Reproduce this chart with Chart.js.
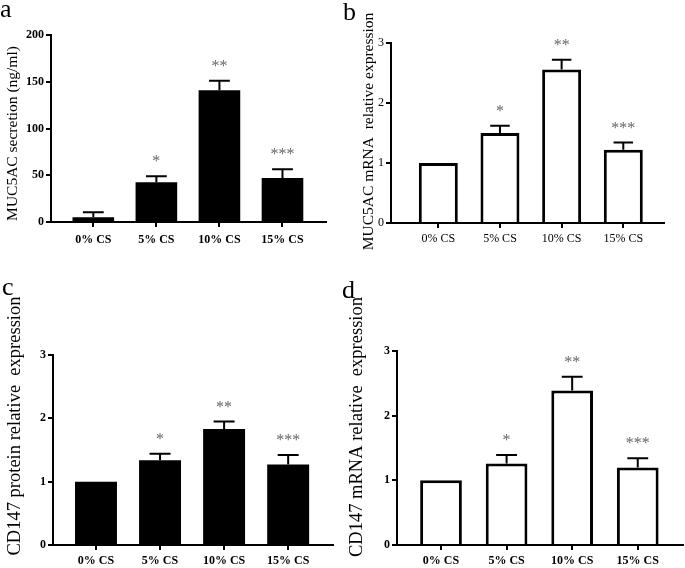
<!DOCTYPE html>
<html>
<head>
<meta charset="utf-8">
<script src="https://cdn.jsdelivr.net/npm/chart.js@4.4.0/dist/chart.umd.min.js"></script>
<style>
  body { margin: 0; background: #fff; }
  #wrap { position: relative; width: 685px; height: 568px; }
  canvas { position: absolute; }
</style>
</head>
<body>
<div id="wrap">
  <canvas id="chartA" width="340" height="280" style="left:0;top:0"></canvas>
  <canvas id="chartB" width="345" height="280" style="left:340px;top:0"></canvas>
  <canvas id="chartC" width="340" height="288" style="left:0;top:280px"></canvas>
  <canvas id="chartD" width="345" height="288" style="left:340px;top:280px"></canvas>
</div>
<script>
const categories = ['0% CS', '5% CS', '10% CS', '15% CS'];
const stars = ['', '*', '**', '***'];

// a - MUC5AC secretion (ng/ml)
const secretionMean = [5, 42.5, 141, 47];
const secretionErr = [5.5, 6.5, 10, 9.5];
// b - MUC5AC mRNA
const mucMrnaMean = [1, 1.5, 2.56, 1.22];
const mucMrnaErr = [0, 0.12, 0.16, 0.12];
// c - CD147 protein
const cdProteinMean = [1, 1.34, 1.83, 1.27];
const cdProteinErr = [0, 0.1, 0.12, 0.15];
// d - CD147 mRNA
const cdMrnaMean = [1, 1.26, 2.39, 1.2];
const cdMrnaErr = [0, 0.13, 0.21, 0.14];

const ticksSecretion = [0, 50, 100, 150, 200];
const ticksRelative = [0, 1, 2, 3];

const serif = '"Liberation Serif", "Times New Roman", serif';

// error bars (upper half), stars, panel letter, y title
const extras = {
    id: 'extras',
    afterDatasetsDraw(chart, args, o) {
        const ctx = chart.ctx;
        const y = chart.scales.y;
        const bars = chart.getDatasetMeta(0).data;
        ctx.save();
        ctx.strokeStyle = '#000';
        ctx.lineWidth = 2;
        bars.forEach((bar, i) => {
            const top = y.getPixelForValue(o.mean[i] + o.err[i]);
            if (o.err[i] > 0) {
                const base = y.getPixelForValue(o.mean[i]);
                const half = bar.width / 4;
                ctx.beginPath();
                ctx.moveTo(bar.x, base);
                ctx.lineTo(bar.x, top);
                ctx.moveTo(bar.x - half, top);
                ctx.lineTo(bar.x + half, top);
                ctx.stroke();
            }
            if (o.stars[i]) {
                ctx.fillStyle = '#666';
                ctx.font = '16px ' + serif;
                ctx.textAlign = 'center';
                ctx.textBaseline = 'alphabetic';
                ctx.fillText(o.stars[i], bar.x, top - 10);
            }
        });
        ctx.fillStyle = '#000';
        ctx.font = '26px ' + serif;
        ctx.textAlign = 'left';
        ctx.textBaseline = 'alphabetic';
        ctx.fillText(o.letter, o.letterX, o.letterY);

        ctx.translate(o.titleX, o.titleY);
        ctx.rotate(-Math.PI / 2);
        ctx.textAlign = 'center';
        ctx.textBaseline = 'middle';
        ctx.font = o.titleSize + 'px ' + serif;
        ctx.fillText(o.title, 0, 0);
        ctx.restore();
    }
};

function makePanel(id, cfg) {
    const tickFont = { family: serif, size: 12, weight: cfg.bold ? 'bold' : 'normal' };
    new Chart(document.getElementById(id), {
        type: 'bar',
        data: {
            datasets: [{
                data: categories.map((c, i) => ({ x: i, y: cfg.mean[i] })),
                backgroundColor: cfg.fill,
                borderColor: '#000',
                borderWidth: cfg.border,
                barPercentage: cfg.barPct,
                categoryPercentage: 1
            }]
        },
        options: {
            responsive: false,
            animation: false,
            layout: { padding: { left: 0, top: cfg.top, right: cfg.right, bottom: 0 } },
            plugins: {
                legend: { display: false },
                tooltip: { enabled: false },
                extras: {
                    mean: cfg.mean, err: cfg.err, stars: stars,
                    letter: cfg.letter, letterX: cfg.letterX, letterY: cfg.letterY,
                    title: cfg.title, titleX: cfg.titleX, titleY: cfg.titleY, titleSize: cfg.titleSize
                }
            },
            scales: {
                x: {
                    type: 'linear',
                    offset: false,
                    min: cfg.xmin,
                    max: cfg.xmax,
                    afterBuildTicks: s => { s.ticks = categories.map((c, i) => ({ value: i })); },
                    afterFit: s => { s.height = cfg.xh; },
                    ticks: { callback: v => categories[v], font: tickFont, color: '#000', padding: cfg.xpad, maxRotation: 0, autoSkip: false },
                    grid: { offset: false, drawOnChartArea: false, tickLength: 5, color: '#000', lineWidth: 2, z: 1 },
                    border: { color: '#000', width: 2, z: 1 }
                },
                y: {
                    min: 0,
                    max: cfg.yticks[cfg.yticks.length - 1],
                    afterBuildTicks: s => { s.ticks = cfg.yticks.map(v => ({ value: v })); },
                    afterFit: s => { s.width = cfg.left; },
                    ticks: { font: tickFont, color: '#000', padding: 2 },
                    grid: { drawOnChartArea: false, tickLength: 5, color: '#000', lineWidth: 2, z: 1 },
                    border: { color: '#000', width: 2, z: 1 }
                }
            }
        },
        plugins: [extras]
    });
}

makePanel('chartA', {
    mean: secretionMean, err: secretionErr, yticks: ticksSecretion,
    fill: '#000', border: 0, bold: true, barPct: 0.66, xpad: 6,
    left: 51, top: 35, right: 14, xh: 58, xmin: -0.671, xmax: 3.69,
    letter: 'a', letterX: 0, letterY: 17,
    title: 'MUC5AC secretion (ng/ml)', titleX: 13, titleY: 133.5, titleSize: 15.5
});
makePanel('chartB', {
    mean: mucMrnaMean, err: mucMrnaErr, yticks: ticksRelative,
    fill: '#fff', border: 3, bold: false, barPct: 0.632, xpad: 4,
    left: 51, top: 43, right: 21, xh: 57, xmin: -0.767, xmax: 3.66,
    letter: 'b', letterX: 3, letterY: 20,
    title: 'MUC5AC mRNA  relative expression', titleX: 29, titleY: 131.5, titleSize: 15.5
});
makePanel('chartC', {
    mean: cdProteinMean, err: cdProteinErr, yticks: ticksRelative,
    fill: '#000', border: 0, bold: true, barPct: 0.655, xpad: 4,
    left: 53, top: 75, right: 7, xh: 23, xmin: -0.671, xmax: 3.70,
    letter: 'c', letterX: 2, letterY: 15,
    title: 'CD147 protein relative  expression', titleX: 15, titleY: 146, titleSize: 18.5
});
makePanel('chartD', {
    mean: cdMrnaMean, err: cdMrnaErr, yticks: ticksRelative,
    fill: '#fff', border: 3, bold: true, barPct: 0.636, xpad: 4,
    left: 57, top: 71, right: 2, xh: 23, xmin: -0.671, xmax: 3.69,
    letter: 'd', letterX: 2, letterY: 18,
    title: 'CD147 mRNA relative  expression', titleX: 17.5, titleY: 147, titleSize: 18.5
});
</script>
</body>
</html>
